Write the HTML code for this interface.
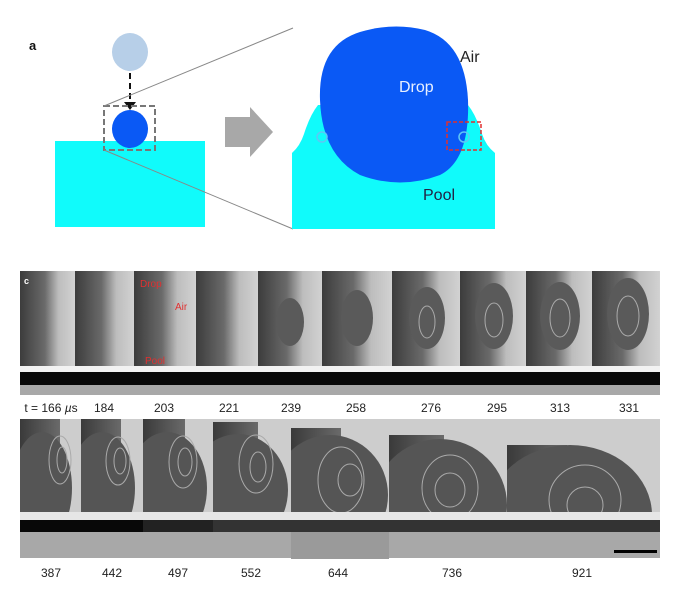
<!DOCTYPE html>
<html><head><meta charset="utf-8"><style>
html,body{margin:0;padding:0;background:#fff;width:680px;height:591px;overflow:hidden}
svg{display:block}
text{font-family:"Liberation Sans",sans-serif}
</style></head><body>
<svg width="680" height="591" viewBox="0 0 680 591" xmlns="http://www.w3.org/2000/svg">
<defs>
<linearGradient id="h1" x1="0" x2="1" y1="0" y2="0">
<stop offset="0" stop-color="#3c3c3c"/><stop offset="0.45" stop-color="#6a6a6a"/><stop offset="0.7" stop-color="#bdbdbd"/><stop offset="1" stop-color="#d2d2d2"/></linearGradient>
<linearGradient id="h2" x1="0" x2="1" y1="0" y2="0">
<stop offset="0" stop-color="#3a3a3a"/><stop offset="1" stop-color="#6a6a6a"/></linearGradient>
<clipPath id="c1"><rect x="20" y="419" width="61" height="101"/></clipPath>
<clipPath id="c2"><rect x="81" y="419" width="62" height="101"/></clipPath>
<clipPath id="c3"><rect x="143" y="419" width="70" height="101"/></clipPath>
<clipPath id="c4"><rect x="213" y="419" width="78" height="101"/></clipPath>
<clipPath id="c5"><rect x="291" y="419" width="98" height="101"/></clipPath>
<clipPath id="c6"><rect x="389" y="419" width="118" height="101"/></clipPath>
<clipPath id="c7"><rect x="507" y="419" width="153" height="101"/></clipPath>
</defs>
<!-- panel a -->
<text x="29" y="50" font-size="13" font-weight="bold" fill="#111">a</text>
<ellipse cx="130" cy="52" rx="18" ry="19" fill="#b7cfe8"/>
<line x1="130" y1="73" x2="130" y2="104" stroke="#111" stroke-width="2" stroke-dasharray="6,4"/>
<polygon points="124,102 136,102 130,110" fill="#111"/>
<rect x="55" y="141" width="150" height="86" fill="#10fbfb"/>
<ellipse cx="130" cy="129" rx="18" ry="19" fill="#0a59f5"/>
<rect x="104" y="106" width="51" height="44" fill="none" stroke="#777" stroke-width="2" stroke-dasharray="6,3"/>
<line x1="104" y1="106" x2="293" y2="28" stroke="#888" stroke-width="1"/>
<line x1="104" y1="150" x2="293" y2="229" stroke="#888" stroke-width="1"/>
<polygon points="225,117 250,117 250,107 273,132 250,157 250,147 225,147" fill="#a8a8a8"/>
<path d="M292,229 L292,153 Q300,146 304,134 Q310,115 318,105 L468,105 Q476,115 482,134 Q486,146 495,153 L495,229 Z" fill="#10fbfb"/>
<path d="M320,100 Q318,45 360,32 Q393,22 425,30 Q465,42 468,100 Q470,160 440,175 Q400,190 360,175 Q322,155 320,100 Z" fill="#0a59f5"/>
<circle cx="322" cy="137" r="5" fill="none" stroke="#5ec7f5" stroke-width="1.5"/>
<circle cx="464" cy="137" r="5" fill="none" stroke="#5ec7f5" stroke-width="1.5"/>
<rect x="447" y="122" width="34" height="28" fill="none" stroke="#e03030" stroke-width="1.5" stroke-dasharray="4,2"/>
<text x="460" y="62" font-size="16" fill="#222">Air</text>
<text x="399" y="92" font-size="16" fill="#e8f0ff">Drop</text>
<text x="423" y="200" font-size="16" fill="#224">Pool</text>

<!-- row 1 -->
<rect x="20" y="271" width="640" height="101" fill="#cfcfcf"/>
<rect x="20" y="271" width="55" height="101" fill="url(#h1)"/>
<rect x="75" y="271" width="59" height="101" fill="url(#h1)"/>
<rect x="134" y="271" width="62" height="101" fill="url(#h1)"/>
<rect x="196" y="271" width="62" height="101" fill="url(#h1)"/>
<rect x="258" y="271" width="64" height="101" fill="url(#h1)"/>
<rect x="322" y="271" width="70" height="101" fill="url(#h1)"/>
<rect x="392" y="271" width="68" height="101" fill="url(#h1)"/>
<rect x="460" y="271" width="66" height="101" fill="url(#h1)"/>
<rect x="526" y="271" width="66" height="101" fill="url(#h1)"/>
<rect x="592" y="271" width="68" height="101" fill="url(#h1)"/>
<ellipse cx="290" cy="322" rx="14" ry="24" fill="#5a5a5a"/>
<ellipse cx="357" cy="318" rx="16" ry="28" fill="#5a5a5a"/>
<ellipse cx="427" cy="318" rx="18" ry="31" fill="#5a5a5a"/>
<ellipse cx="494" cy="316" rx="19" ry="33" fill="#5a5a5a"/>
<ellipse cx="560" cy="316" rx="20" ry="34" fill="#5a5a5a"/>
<ellipse cx="628" cy="314" rx="21" ry="36" fill="#5a5a5a"/>
<g fill="none" stroke="#aaa" stroke-width="1">
<ellipse cx="427" cy="322" rx="8" ry="16"/><ellipse cx="494" cy="320" rx="9" ry="17"/><ellipse cx="560" cy="318" rx="10" ry="19"/><ellipse cx="628" cy="316" rx="11" ry="20"/>
</g>
<rect x="20" y="366" width="640" height="6" fill="#f2f2f2"/>
<rect x="20" y="372" width="640" height="13" fill="#080808"/>
<rect x="20" y="385" width="640" height="10" fill="#a8a8a8"/>
<text x="24" y="284" font-size="9" font-weight="bold" fill="#fff">c</text>
<text x="140" y="287" font-size="10" fill="#e03030">Drop</text>
<text x="175" y="310" font-size="10" fill="#e03030">Air</text>
<text x="145" y="364" font-size="10" fill="#e03030">Pool</text>
<g font-size="12" fill="#222" text-anchor="middle">
<text x="51" y="412">t = 166 <tspan font-style="italic">µ</tspan>s</text>
<text x="104" y="412">184</text><text x="164" y="412">203</text><text x="229" y="412">221</text>
<text x="291" y="412">239</text><text x="356" y="412">258</text><text x="431" y="412">276</text>
<text x="497" y="412">295</text><text x="560" y="412">313</text><text x="629" y="412">331</text>
</g>

<!-- row 2 -->
<rect x="20" y="419" width="640" height="101" fill="#cdcdcd"/>
<g clip-path="url(#c1)"><rect x="20" y="419" width="40" height="101" fill="url(#h2)"/><ellipse cx="42" cy="488" rx="30" ry="56" fill="#555"/><ellipse cx="60" cy="460" rx="11" ry="24" fill="none" stroke="#aaa"/><ellipse cx="62" cy="460" rx="5" ry="13" fill="none" stroke="#aaa"/></g>
<g clip-path="url(#c2)"><rect x="81" y="419" width="40" height="101" fill="url(#h2)"/><ellipse cx="102" cy="488" rx="33" ry="56" fill="#555"/><ellipse cx="118" cy="461" rx="12" ry="24" fill="none" stroke="#aaa"/><ellipse cx="120" cy="461" rx="6" ry="13" fill="none" stroke="#aaa"/></g>
<g clip-path="url(#c3)"><rect x="143" y="419" width="42" height="101" fill="url(#h2)"/><ellipse cx="167" cy="488" rx="40" ry="56" fill="#555"/><ellipse cx="183" cy="462" rx="14" ry="26" fill="none" stroke="#aaa"/><ellipse cx="185" cy="462" rx="7" ry="14" fill="none" stroke="#aaa"/></g>
<g clip-path="url(#c4)"><rect x="213" y="422" width="45" height="98" fill="url(#h2)"/><ellipse cx="238" cy="490" rx="50" ry="56" fill="#555"/><ellipse cx="256" cy="464" rx="17" ry="29" fill="none" stroke="#aaa"/><ellipse cx="258" cy="467" rx="8" ry="15" fill="none" stroke="#aaa"/></g>
<g clip-path="url(#c5)"><rect x="291" y="428" width="50" height="92" fill="url(#h2)"/><ellipse cx="330" cy="495" rx="58" ry="60" fill="#555"/><ellipse cx="341" cy="480" rx="23" ry="33" fill="none" stroke="#aaa"/><ellipse cx="350" cy="480" rx="12" ry="16" fill="none" stroke="#aaa"/></g>
<g clip-path="url(#c6)"><rect x="389" y="435" width="55" height="85" fill="url(#h2)"/><ellipse cx="440" cy="505" rx="67" ry="66" fill="#555"/><ellipse cx="450" cy="488" rx="28" ry="33" fill="none" stroke="#aaa"/><ellipse cx="450" cy="490" rx="15" ry="17" fill="none" stroke="#aaa"/></g>
<g clip-path="url(#c7)"><rect x="507" y="445" width="60" height="75" fill="url(#h2)"/><ellipse cx="570" cy="515" rx="82" ry="70" fill="#555"/><ellipse cx="585" cy="500" rx="36" ry="35" fill="none" stroke="#aaa"/><ellipse cx="585" cy="505" rx="18" ry="18" fill="none" stroke="#aaa"/></g>
<rect x="20" y="512" width="640" height="8" fill="#e6e6e6"/>
<rect x="20" y="520" width="123" height="12" fill="#080808"/>
<rect x="143" y="520" width="70" height="12" fill="#222"/>
<rect x="213" y="520" width="447" height="12" fill="#333"/>
<rect x="20" y="532" width="640" height="26" fill="#a8a8a8"/>
<rect x="291" y="532" width="98" height="27" fill="#9a9a9a"/>
<rect x="614" y="550" width="43" height="3" fill="#000"/>
<g font-size="12" fill="#222" text-anchor="middle">
<text x="51" y="577">387</text><text x="112" y="577">442</text><text x="178" y="577">497</text>
<text x="251" y="577">552</text><text x="338" y="577">644</text><text x="452" y="577">736</text>
<text x="582" y="577">921</text>
</g>
</svg>
</body></html>
